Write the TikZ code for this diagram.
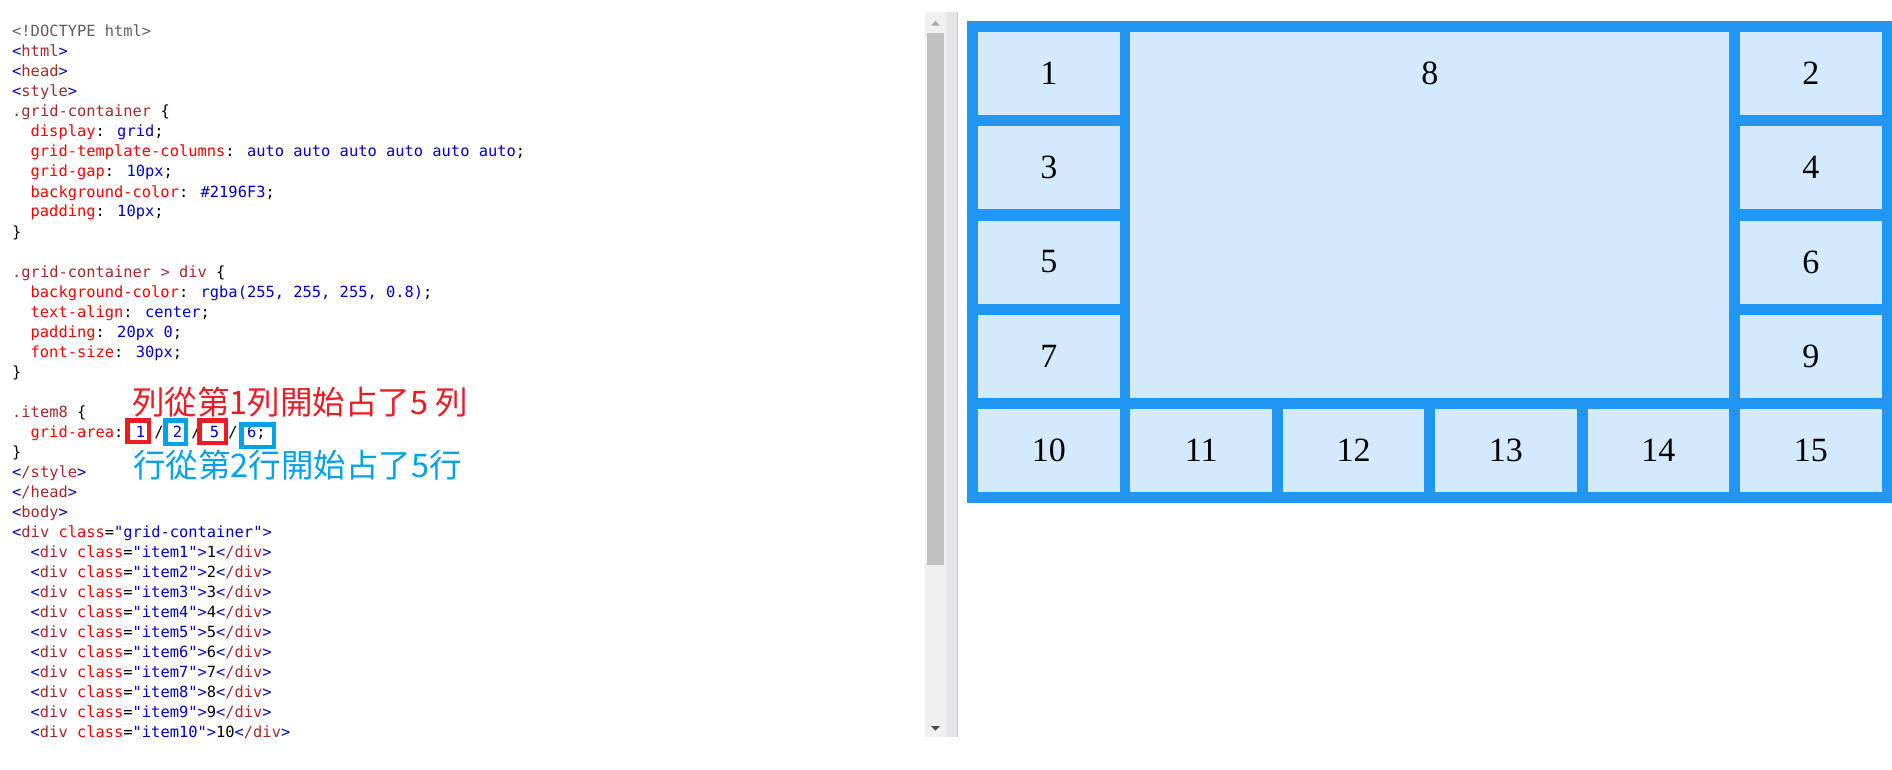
\documentclass[tikz,border=0pt]{standalone}
\usepackage{fontspec}
\newfontfamily\codefont{DejaVu Sans Mono}
\newfontfamily\cellfont{Liberation Serif}
\newfontfamily\cjkfont{Noto Sans CJK TC}

\definecolor{gridblue}{HTML}{2196F3}
\definecolor{cellbg}{HTML}{D3EAFD}
\definecolor{tagbrown}{HTML}{A52A2A}
\definecolor{mblue}{HTML}{0000CD}
\definecolor{attrred}{HTML}{FF0000}
\definecolor{docgray}{HTML}{5F5F5F}
\definecolor{notered}{HTML}{ED1C24}
\definecolor{noteblue}{HTML}{00A2E8}
\definecolor{trackgray}{HTML}{F0F0F0}
\definecolor{thumbgray}{HTML}{C1C1C1}
\definecolor{splitgray}{HTML}{E5E5E7}

\newcommand{\ctag}[1]{\textcolor{tagbrown}{#1}}
\newcommand{\cbr}[1]{\textcolor{mblue}{#1}}
\newcommand{\cattr}[1]{\textcolor{attrred}{#1}}
\newcommand{\cval}[1]{\textcolor{mblue}{#1}}

\tikzset{
  code/.style={anchor=base west, inner sep=0pt, font=\codefont\fontsize{15.4}{20}\selectfont},
  cell/.style={fill=cellbg, minimum width=141.5pt, minimum height=83pt, inner sep=0pt, font=\cellfont\fontsize{34}{40}\selectfont},
  note/.style={anchor=base west, inner sep=0pt, font=\cjkfont\fontsize{32.5}{38}\selectfont},
  hlred/.style={draw=notered, line width=4.5pt},
  hlblue/.style={draw=noteblue, line width=4.5pt}
}

\begin{document}
\begin{tikzpicture}[x=1pt, y=-1pt]

                \useasboundingbox[fill=white] (0,0) rectangle (1892,770);

                % source code
                \node[code] (l0) at (12,37) {\textcolor{docgray}{<!DOCTYPE html>}};
                \node[code] (l1) at (12,57) {\cbr{<}\ctag{html}\cbr{>}};
                \node[code] (l2) at (12,77) {\cbr{<}\ctag{head}\cbr{>}};
                \node[code] (l3) at (12,97) {\cbr{<}\ctag{style}\cbr{>}};
                \node[code] (l4) at (12,117) {\ctag{.grid-container} \{};
                \node[code] (l5) at (30.5,137) {\cattr{display}: \cval{grid};};
                \node[code] (l6) at (30.5,157) {\cattr{grid-template-columns}: \cval{auto auto auto auto auto auto};};
                \node[code] (l7) at (30.5,177) {\cattr{grid-gap}: \cval{10px};};
                \node[code] (l8) at (30.5,197) {\cattr{background-color}: \cval{\#2196F3};};
                \node[code] (l9) at (30.5,217) {\cattr{padding}: \cval{10px};};
                \node[code] (l10) at (12,237) {\}};

                \node[code] (l12) at (12,277) {\ctag{.grid-container > div} \{};
                \node[code] (l13) at (30.5,297) {\cattr{background-color}: \cval{rgba(255, 255, 255, 0.8)};};
                \node[code] (l14) at (30.5,317) {\cattr{text-align}: \cval{center};};
                \node[code] (l15) at (30.5,337) {\cattr{padding}: \cval{20px 0};};
                \node[code] (l16) at (30.5,357) {\cattr{font-size}: \cval{30px};};
                \node[code] (l17) at (12,377) {\}};

                \node[code] (l19) at (12,417) {\ctag{.item8} \{};
                \node[code] (l20) at (30.5,437) {\cattr{grid-area}: \cval{1} / \cval{2} / \cval{5} / \cval{6};};
                \node[code] (l21) at (12,457) {\}};
                \node[code] (l22) at (12,477) {\cbr{<}\ctag{/style}\cbr{>}};
                \node[code] (l23) at (12,497) {\cbr{<}\ctag{/head}\cbr{>}};
                \node[code] (l24) at (12,517) {\cbr{<}\ctag{body}\cbr{>}};
                \node[code] (l25) at (12,537) {\cbr{<}\ctag{div} \cattr{class}=\cval{"grid-container"}\cbr{>}};
                \node[code] (l26) at (30.5,557) {\cbr{<}\ctag{div} \cattr{class}=\cval{"item1"}\cbr{>}1\cbr{<}\ctag{/div}\cbr{>}};
                \node[code] (l27) at (30.5,577) {\cbr{<}\ctag{div} \cattr{class}=\cval{"item2"}\cbr{>}2\cbr{<}\ctag{/div}\cbr{>}};
                \node[code] (l28) at (30.5,597) {\cbr{<}\ctag{div} \cattr{class}=\cval{"item3"}\cbr{>}3\cbr{<}\ctag{/div}\cbr{>}};
                \node[code] (l29) at (30.5,617) {\cbr{<}\ctag{div} \cattr{class}=\cval{"item4"}\cbr{>}4\cbr{<}\ctag{/div}\cbr{>}};
                \node[code] (l30) at (30.5,637) {\cbr{<}\ctag{div} \cattr{class}=\cval{"item5"}\cbr{>}5\cbr{<}\ctag{/div}\cbr{>}};
                \node[code] (l31) at (30.5,657) {\cbr{<}\ctag{div} \cattr{class}=\cval{"item6"}\cbr{>}6\cbr{<}\ctag{/div}\cbr{>}};
                \node[code] (l32) at (30.5,677) {\cbr{<}\ctag{div} \cattr{class}=\cval{"item7"}\cbr{>}7\cbr{<}\ctag{/div}\cbr{>}};
                \node[code] (l33) at (30.5,697) {\cbr{<}\ctag{div} \cattr{class}=\cval{"item8"}\cbr{>}8\cbr{<}\ctag{/div}\cbr{>}};
                \node[code] (l34) at (30.5,717) {\cbr{<}\ctag{div} \cattr{class}=\cval{"item9"}\cbr{>}9\cbr{<}\ctag{/div}\cbr{>}};
                \node[code] (l35) at (30.5,737) {\cbr{<}\ctag{div} \cattr{class}=\cval{"item10"}\cbr{>}10\cbr{<}\ctag{/div}\cbr{>}};

                % notes
                \node[note, text=notered] (colnote) at (132,414) {列從第1列開始占了5 列};
                \node[note, text=noteblue] (rownote) at (133,477) {行從第2行開始占了5行};
                \draw[hlred] (127.25,420.25) rectangle (148.75,441.75);
                \draw[hlblue] (165.25,420.25) rectangle (185.75,443.75);
                \draw[hlred] (199.25,420.25) rectangle (225.75,442.75);
                \draw[hlblue] (241.25,424.25) rectangle (273.75,446.75);

                % scrollbar
                \fill[trackgray] (925,12) rectangle (946,737);
                \fill[thumbgray] (927,33) rectangle (944,565);
                \fill[splitgray] (946,12) rectangle (958,737);
                \draw[gray!40] (957.5,12) -- (957.5,737);
                \fill[gray!70] (931,25.7) -- (940,25.7) -- (935.5,21) -- cycle;
                \fill[black!70] (931,726) -- (940,726) -- (935.5,730.7) -- cycle;

                % grid
                \fill[gridblue] (967,21) rectangle (1892,503);

                \node[cell] (c1) at (1048.75,73.5) {1};
                \node[cell] (c2) at (1810.75,73.5) {2};
                \node[cell] (c3) at (1048.75,167.75) {3};
                \node[cell] (c4) at (1810.75,167.75) {4};
                \node[cell] (c5) at (1048.75,262) {5};
                \node[cell] (c6) at (1810.75,262) {6};
                \node[cell] (c7) at (1048.75,356.25) {7};
                \node[cell] (c9) at (1810.75,356.25) {9};
                \node[cell, minimum width=598.7pt, minimum height=365.75pt] (c8) at (1429.75,214.875) {};
                \node[cell, fill=none, minimum width=0pt, minimum height=0pt] (t8) at (1429.75,73.5) {8};

                \node[cell] (c10) at (1048.75,450.5) {10};
                \node[cell] (c11) at (1201.15,450.5) {11};
                \node[cell] (c12) at (1353.55,450.5) {12};
                \node[cell] (c13) at (1505.95,450.5) {13};
                \node[cell] (c14) at (1658.35,450.5) {14};
                \node[cell] (c15) at (1810.75,450.5) {15};

\end{tikzpicture}
\end{document}
